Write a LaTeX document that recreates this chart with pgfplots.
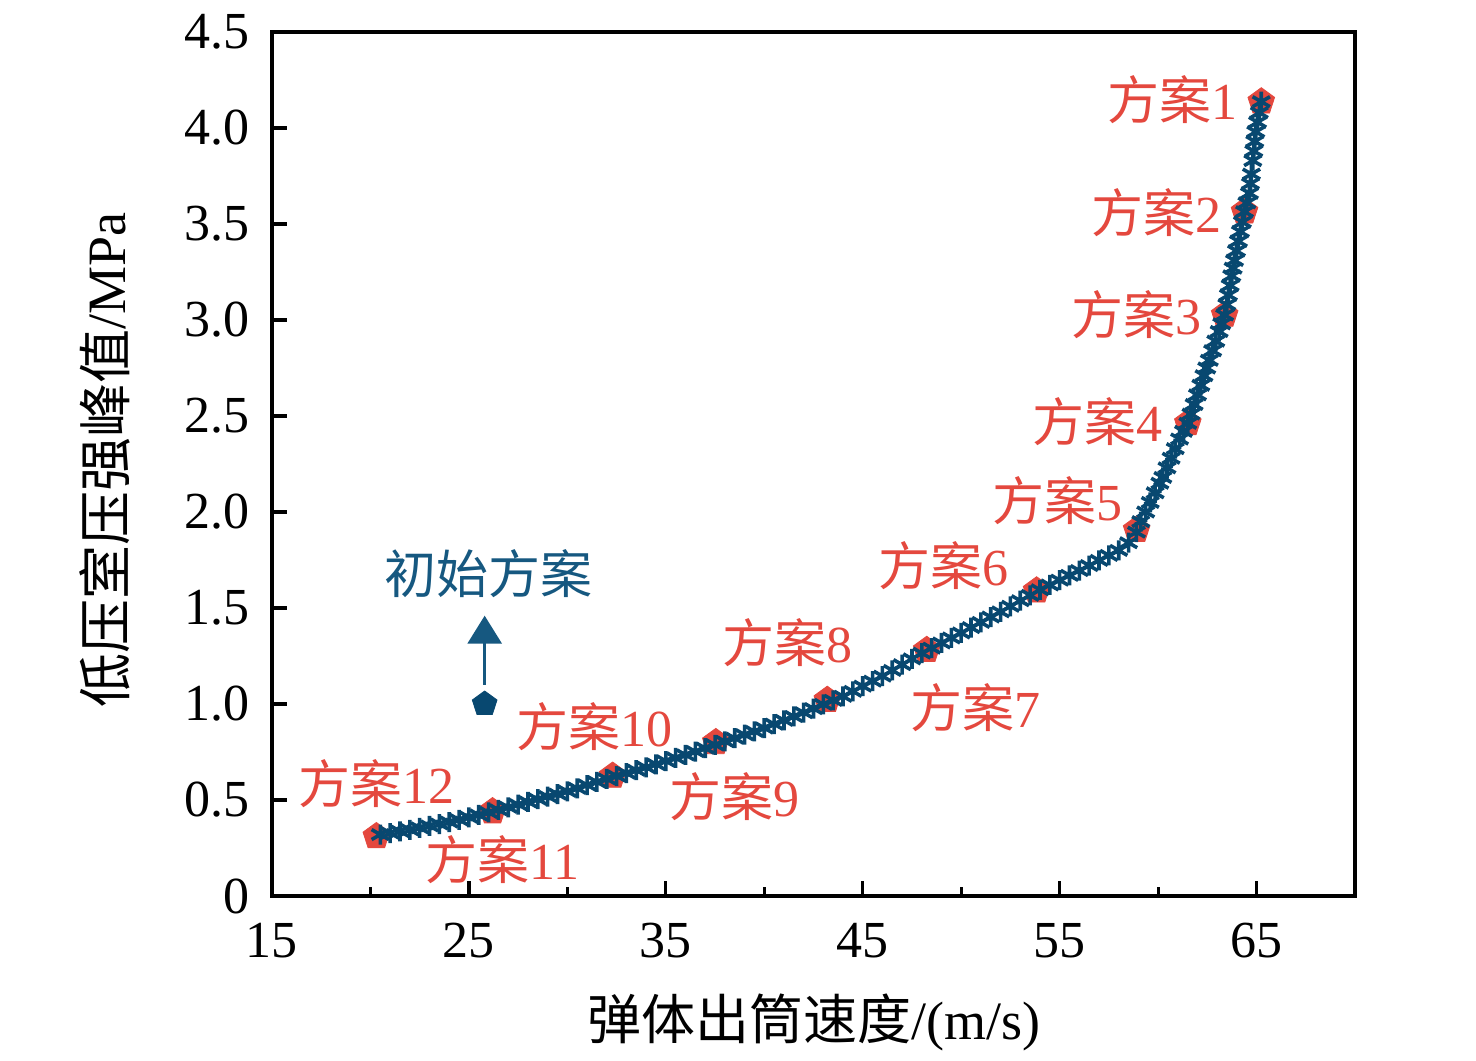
\documentclass[border=0pt]{standalone}
\usepackage{fontspec}
\setmainfont{Liberation Serif}
\newfontfamily\cjk{Noto Sans CJK SC}
\usepackage{pgfplots}
\pgfplotsset{compat=1.18}
\usetikzlibrary{arrows.meta}
\definecolor{curveblue}{RGB}{8,72,112}
\definecolor{textblue}{RGB}{22,88,128}
\definecolor{myred}{RGB}{228,72,62}
\newcommand{\lab}{\fontsize{26}{26}\selectfont}
\begin{document}
\begin{tikzpicture}
\begin{axis}[
  at={(0,0)}, anchor=south west, scale only axis,
  width=541.5pt, height=432pt,
  xmin=15, xmax=70, ymin=0, ymax=4.5,
  xtick={15,25,...,65}, minor xtick={20,30,...,70},
  ytick={0,0.5,1,1.5,2,2.5,3,3.5,4,4.5},
  yticklabels={0,0.5,1.0,1.5,2.0,2.5,3.0,3.5,4.0,4.5},
  tick align=inside, xtick pos=bottom, ytick pos=left,
  major tick length=7.5pt, minor tick length=4.5pt,
  axis line style={line width=1.6pt},
  every tick/.append style={black, line width=1.6pt},
  ticklabel style={font=\lab},
  xticklabel style={anchor=base, yshift=-30.5pt},
  yticklabel style={xshift=-7.5pt},
  /pgf/number format/assume math mode=true,
  xlabel={{\cjk 弹体出筒速度}/(m/s)},
  ylabel={{\cjk 低压室压强峰值}/MPa},
  label style={font=\fontsize{27}{27}\selectfont},
  xlabel style={at={(axis description cs:0.5,-0.1458)}, anchor=center},
  ylabel style={at={(axis description cs:-0.1542,0.505)}, anchor=center},
  clip=false,
]
% red schemes
\addplot[only marks, mark=pentagon*, mark size=7pt, color=myred] coordinates {
(65.24,4.137) (64.39,3.564) (63.38,3.026) (61.51,2.462) (58.91,1.906)
(53.83,1.59) (48.25,1.28) (43.2,1.02) (37.54,0.80) (32.3,0.625)
(26.2,0.44) (20.3,0.31)
};
% blue curve
\addplot[only marks, mark=asterisk, mark size=5pt, color=curveblue, line width=1.8pt] coordinates {
(20.5,.320) (21.0,.328) (21.5,.337) (22.0,.345) (22.5,.355) (23.0,.365) (23.5,.375)
(24.0,.385) (24.5,.397) (25.0,.410) (25.5,.422) (26.0,.435) (26.5,.449) (27.0,.462)
(27.5,.476) (28.0,.490) (28.5,.504) (29.0,.518) (29.5,.531) (30.0,.545) (30.5,.561)
(31.0,.578) (31.5,.594) (32.0,.610) (32.5,.625) (33.0,.640) (33.5,.655) (34.0,.670)
(34.5,.686) (35.0,.703) (35.5,.719) (36.0,.735) (36.5,.752) (37.0,.770) (37.5,.787)
(38.0,.805) (38.5,.822) (39.0,.840) (39.5,.857) (40.0,.875) (40.5,.895) (41.0,.915)
(41.5,.935) (42.0,.955) (42.5,.976) (43.0,.998) (43.5,1.019) (44.0,1.040) (44.5,1.066)
(45.0,1.093) (45.5,1.119) (46.0,1.145) (46.5,1.175) (47.0,1.205) (47.5,1.235) (48.0,1.265)
(48.5,1.291) (49.0,1.318) (49.5,1.344) (50.0,1.370) (50.5,1.398) (51.0,1.425) (51.5,1.453)
(52.0,1.480) (52.5,1.509) (53.0,1.538) (53.5,1.566) (54.0,1.595) (54.5,1.620) (55.0,1.645)
(55.5,1.670) (56.0,1.695) (56.5,1.721) (57.0,1.748) (57.5,1.774) (58.0,1.800) (58.5,1.840)
(58.9,1.895)
(59.12,1.95) (59.37,2.00) (59.60,2.05) (59.85,2.10) (60.09,2.15) (60.24,2.18)
(60.45,2.23) (60.66,2.28) (60.87,2.33) (61.09,2.38) (61.29,2.42) (61.51,2.462)
(61.67,2.51) (61.83,2.56) (62.00,2.61) (62.17,2.66) (62.33,2.71) (62.47,2.75) (62.60,2.79)
(62.77,2.84) (62.93,2.89) (63.10,2.94) (63.23,2.98) (63.38,3.026)
(63.49,3.08) (63.57,3.13) (63.66,3.18) (63.74,3.23) (63.81,3.27) (63.88,3.31)
(63.98,3.36) (64.08,3.41) (64.18,3.46) (64.28,3.51) (64.39,3.564)
(64.51,3.61) (64.64,3.66) (64.69,3.71) (64.74,3.76) (64.81,3.83) (64.86,3.88)
(64.91,3.93) (64.96,3.98) (65.05,4.03) (65.14,4.08) (65.24,4.137)
};
% initial scheme
\addplot[only marks, mark=pentagon*, mark size=6.5pt, color=curveblue] coordinates {(25.8,1.0)};
\draw[textblue, line width=1.5pt, -{Triangle[width=17pt,length=14pt]}] (axis cs:25.8,1.10) -- (axis cs:25.8,1.46);
\node[font=\lab, text=textblue] at (axis cs:26.0,1.68) {\cjk 初始方案};
% labels
\node[font=\lab, text=myred] at (axis cs:60.74,4.146) {{\cjk 方案}1};
\node[font=\lab, text=myred] at (axis cs:59.92,3.56) {{\cjk 方案}2};
\node[font=\lab, text=myred] at (axis cs:58.9,3.03) {{\cjk 方案}3};
\node[font=\lab, text=myred] at (axis cs:56.93,2.47) {{\cjk 方案}4};
\node[font=\lab, text=myred] at (axis cs:54.9,2.06) {{\cjk 方案}5};
\node[font=\lab, text=myred] at (axis cs:49.1,1.72) {{\cjk 方案}6};
\node[font=\lab, text=myred] at (axis cs:50.74,0.98) {{\cjk 方案}7};
\node[font=\lab, text=myred] at (axis cs:41.2,1.32) {{\cjk 方案}8};
\node[font=\lab, text=myred] at (axis cs:38.5,0.516) {{\cjk 方案}9};
\node[font=\lab, text=myred] at (axis cs:31.4,0.88) {{\cjk 方案}10};
\node[font=\lab, text=myred] at (axis cs:26.7,0.1875) {{\cjk 方案}11};
\node[font=\lab, text=myred] at (axis cs:20.33,0.583) {{\cjk 方案}12};
\end{axis}
\pgfresetboundingbox
\useasboundingbox (-136pt,-82pt) rectangle (602pt,448pt);
\end{tikzpicture}
\end{document}
